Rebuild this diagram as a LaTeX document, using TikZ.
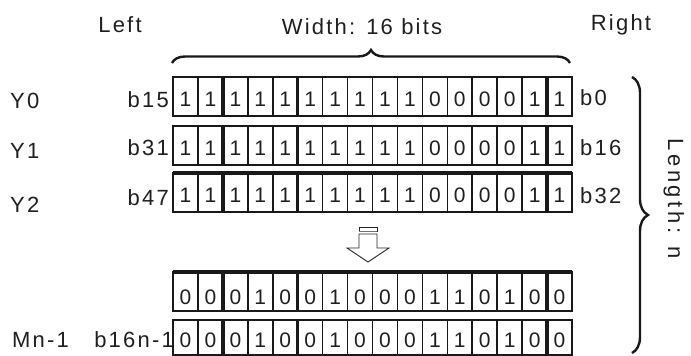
\documentclass[tikz,border=0pt]{standalone}
\usepackage{fontspec}
\setmainfont{Liberation Sans}[LetterSpace=10]
\newfontfamily\widefont{Liberation Sans}[LetterSpace=16]
\usetikzlibrary{decorations.pathreplacing}
\newcommand\bitrow[5]{%
  \foreach \b [count=\i from 0] in {#5} {
    \node[cell] (#1c\i) at ({173+(\i+0.5)*24.9375},#4) {\b};
  }
  \draw[gridline] (173,#2) rectangle (572,#3);
  \foreach \k in {1,3,4,6,7,8,9,10,11,12,13,14} {\draw[gridline] ({173+\k*24.9375},#2) -- ({173+\k*24.9375},#3);}
  \foreach \k in {2,5,15} {\draw[gridthick] ({173+\k*24.9375},#2) -- ({173+\k*24.9375},#3);}
}
\begin{document}
\begin{tikzpicture}[x=1pt,y=-1pt,
  lab/.style={font=\fontsize{22}{26}\selectfont, inner sep=0pt, anchor=base, text=black!88},
  cell/.style={font=\fontsize{21}{25}\selectfont, inner sep=0pt, anchor=base, text=black!88},
  gridline/.style={line width=1.6pt, black!90},
  gridthick/.style={line width=3.4pt, black!90},
  bracestyle/.style={line width=2.4pt, black!90, decorate},
  arrowline/.style={line width=0.9pt, black!85}]
\useasboundingbox (0,0) rectangle (691,356);
% headings
\node[lab] (left) at (120,32) {Left};
\node[lab] (width) at (362,34.5) {Width: 16 bits};
\node[lab] (right) at (621,30.5) {Right};
% top brace
\coordinate (tbl) at (172,63);
\coordinate (tbr) at (570,63);
\draw[bracestyle, decoration={brace, amplitude=13pt}] (tbl) -- (tbr);
% rows
\bitrow{ra}{77}{116}{106}{1,1,1,1,1,1,1,1,1,1,0,0,0,0,1,1}
\bitrow{rb}{126}{165}{155}{1,1,1,1,1,1,1,1,1,1,0,0,0,0,1,1}
\bitrow{rc}{173}{212}{202}{1,1,1,1,1,1,1,1,1,1,0,0,0,0,1,1}
\draw[gridthick] (173,173) -- (572,173);
\bitrow{rd}{272}{311}{304}{0,0,0,1,0,0,1,0,0,0,1,1,0,1,0,0}
\draw[gridthick] (173,272) -- (572,272);
\bitrow{re}{320}{355}{347}{0,0,0,1,0,0,1,0,0,0,1,1,0,1,0,0}
% left labels
\node[lab, anchor=base west] (y0) at (10,108) {Y0};
\node[lab, anchor=base west] (y1) at (10,158) {Y1};
\node[lab, anchor=base west] (y2) at (10,212) {Y2};
\node[lab, anchor=base west] (mn) at (12,347) {Mn-1};
\node[lab, anchor=base east] (b15) at (169,107) {b15};
\node[lab, anchor=base east] (b31) at (169,155) {b31};
\node[lab, anchor=base east] (b47) at (169,205) {b47};
\node[lab, anchor=base east] (b16n) at (174,347) {b16n-1};
% right labels
\node[lab, anchor=base west] (b0) at (580,105) {b0};
\node[lab, anchor=base west] (b16) at (580,155) {b16};
\node[lab, anchor=base west] (b32) at (580,203) {b32};
% right brace
\coordinate (rbt) at (632,77);
\coordinate (rbb) at (632,353);
\draw[bracestyle, decoration={brace, amplitude=16pt}] (rbt) -- (rbb);
\node[lab, rotate=-90, font=\fontsize{22}{26}\widefont] (len) at (668,198.5) {Length: n};
% down arrow
\draw[arrowline] (359,227) rectangle (377,231);
\draw[arrowline, black!55] (359,231) -- (377,231);
\draw[arrowline] (359,234) -- (359,248) -- (347,248) -- (368,262) -- (389,248) -- (377,248) -- (377,234) -- cycle;
\end{tikzpicture}
\end{document}
